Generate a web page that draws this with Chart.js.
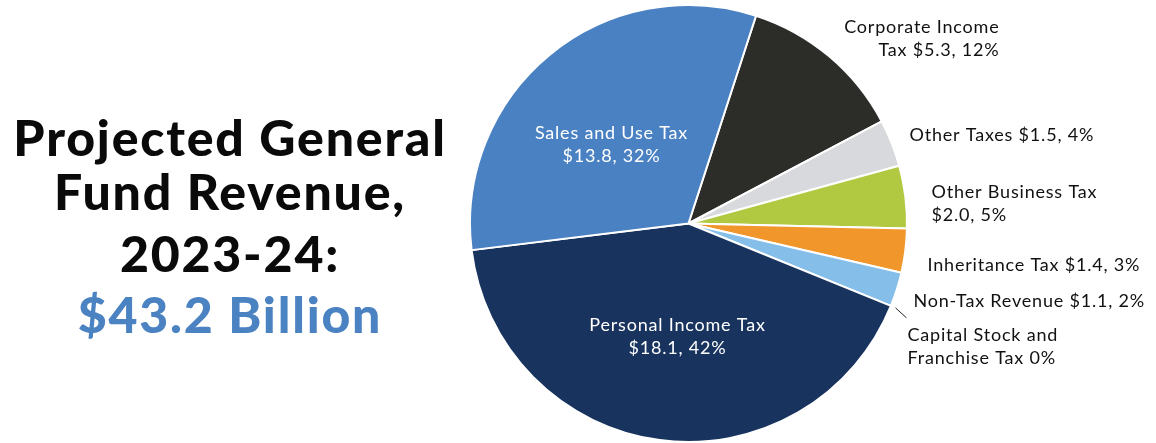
<!DOCTYPE html>
<html>
<head>
<meta charset="utf-8">
<script src="https://cdn.jsdelivr.net/npm/chart.js@4"></script>
<style>
  html, body { margin: 0; padding: 0; background: #fff; }
  #wrap { position: relative; width: 1156px; height: 443px; overflow: hidden; }
  #revChart { position: absolute; left: 0; top: 0; }
  .title { position: absolute; left: 0; width: 460px; text-align: center;
           font-family: Lato, "Open Sans", sans-serif; font-weight: 900;
           font-size: 50px; line-height: 50px; letter-spacing: 1.8px;
           color: #0a0a0a; white-space: nowrap; }
  .title.total { color: #4a82c2; }
</style>
</head>
<body>
<div id="wrap">
  <div class="title" style="top:112px">Projected General</div>
  <div class="title" style="top:166px">Fund Revenue,</div>
  <div class="title" style="top:228px">2023-24:</div>
  <div class="title total" style="top:289px">$43.2 Billion</div>
  <canvas id="revChart" width="1156" height="443"></canvas>
</div>
<script>
// 收入类别（顺时针，从企业所得税开始）
const categories = [
    'Corporate Income Tax',
    'Other Taxes',
    'Other Business Tax',
    'Inheritance Tax',
    'Non-Tax Revenue',
    'Capital Stock and Franchise Tax',
    'Personal Income Tax',
    'Sales and Use Tax'
];
// 金额（十亿美元）
const amounts = [5.3, 1.5, 2.0, 1.4, 1.1, 0, 18.1, 13.8];
// 占比（%）
const shares = [12, 4, 5, 3, 2, 0, 42, 32];

const SLICE_COLORS = [
    '#2c2d28', '#d8d9dc', '#b1c940', '#f0962a',
    '#84bee9', '#17335e', '#17335e', '#4a81c2'
];

// 每个标签的文字行、对齐方式和相对圆心的偏移
const LABEL_LAYOUT = [
    { lines: ['Corporate Income', 'Tax $5.3, 12%'], align: 'right', dx: 311, dy: -196, color: '#111' },
    { lines: ['Other Taxes $1.5, 4%'], align: 'left', dx: 221, dy: -88, color: '#111' },
    { lines: ['Other Business Tax', '$2.0, 5%'], align: 'left', dx: 243, dy: -31, color: '#111' },
    { lines: ['Inheritance Tax $1.4, 3%'], align: 'left', dx: 239, dy: 42, color: '#111' },
    { lines: ['Non-Tax Revenue $1.1, 2%'], align: 'left', dx: 225, dy: 78, color: '#111' },
    { lines: ['Capital Stock and', 'Franchise Tax 0%'], align: 'left', dx: 219, dy: 112, color: '#111', leader: true },
    { lines: ['Personal Income Tax', '$18.1, 42%'], align: 'center', dx: -11, dy: 102, color: '#fff' },
    { lines: ['Sales and Use Tax', '$13.8, 32%'], align: 'center', dx: -77, dy: -90, color: '#fff' }
];

const LINE_H = 23;

// 饼图标签插件
const sliceLabels = {
    id: 'sliceLabels',
    afterDatasetsDraw(chart) {
        const { ctx } = chart;
        const arcs = chart.getDatasetMeta(0).data;
        ctx.save();
        ctx.font = '18px Lato, "Open Sans", sans-serif';
        ctx.letterSpacing = '0.8px';
        ctx.textBaseline = 'middle';
        arcs.forEach((arc, i) => {
            const lay = LABEL_LAYOUT[i];
            const cx = arc.x, cy = arc.y;
            ctx.fillStyle = lay.color;
            ctx.textAlign = lay.align;
            lay.lines.forEach((t, k) => {
                ctx.fillText(t, cx + lay.dx, cy + lay.dy + k * LINE_H);
            });
            if (lay.leader) {
                // 0% 扇区的引线，从扇区起始角的外沿引出
                const a = arc.startAngle;
                const r = arc.outerRadius + 5;
                const x0 = cx + Math.cos(a) * r;
                const y0 = cy + Math.sin(a) * r;
                ctx.strokeStyle = '#222';
                ctx.lineWidth = 1;
                ctx.beginPath();
                ctx.moveTo(x0, y0);
                ctx.lineTo(x0 + 11, y0 + 10);
                ctx.stroke();
            }
        });
        ctx.restore();
    }
};

new Chart(document.getElementById('revChart'), {
    type: 'pie',
    data: {
        labels: categories,
        datasets: [{
            data: amounts,
            backgroundColor: SLICE_COLORS,
            borderColor: '#ffffff',
            borderWidth: 2
        }]
    },
    options: {
        responsive: false,
        animation: false,
        rotation: 18,
        layout: { padding: { left: 469, right: 248, top: 4, bottom: 0 } },
        plugins: {
            legend: { display: false },
            tooltip: { enabled: false }
        }
    },
    plugins: [sliceLabels]
});
</script>
</body>
</html>
